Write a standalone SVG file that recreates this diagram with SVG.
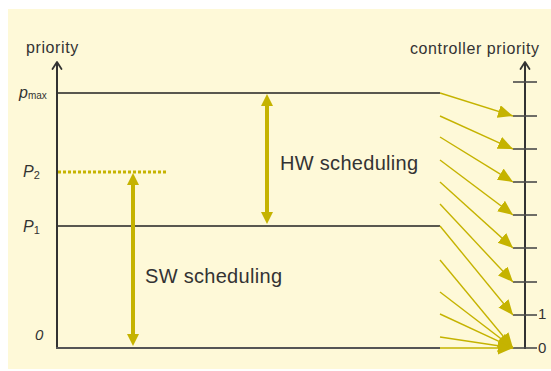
<svg xmlns="http://www.w3.org/2000/svg" width="551" height="371" viewBox="0 0 551 371">
<defs>
<style>
.txt{font-family:"Liberation Sans",Arial,sans-serif;fill:#333}
.ax{stroke:#333;stroke-width:2;fill:none}
.axh{stroke:#333;stroke-width:1.8;fill:none;stroke-linecap:round;stroke-linejoin:round}
.tick{stroke:#4a4a4a;stroke-width:1.6}
.lvl{stroke:#222;stroke-width:1.3}
.map{stroke:#c5b300;stroke-width:1.4;fill:none;marker-end:url(#ya)}
.big{stroke:#c5b300;stroke-width:4;fill:none;marker-start:url(#ba);marker-end:url(#ba)}
</style>
<marker id="ya" markerUnits="userSpaceOnUse" markerWidth="16" markerHeight="14" refX="15" refY="6.5" orient="auto" viewBox="0 0 16 14">
<path d="M0,0 L15,6.5 L0,13 z" fill="#c5b300"/>
</marker>
<marker id="ba" markerUnits="userSpaceOnUse" markerWidth="14" markerHeight="14" refX="2" refY="6" orient="auto-start-reverse" viewBox="0 0 14 14">
<path d="M0,0 L12,6 L0,12 z" fill="#c5b300"/>
</marker>
</defs>
<rect x="8" y="9" width="543" height="360" fill="#fef9d8"/>

<g id="left-axis">
<line class="ax" x1="57" y1="63" x2="57" y2="349"/>
<polyline class="axh" points="52.5,69 57,62 61.5,69"/>
<line x1="56" y1="348" x2="440" y2="348" stroke="#555" stroke-width="2"/>
<text class="txt" x="26" y="53" font-size="16" letter-spacing="0.6">priority</text>
</g>

<g id="right-axis">
<line class="ax" x1="525" y1="63" x2="525" y2="349"/>
<polyline class="axh" points="520.5,69 525,62 529.5,69"/>
<line class="tick" x1="513" y1="82" x2="537" y2="82"/>
<line class="tick" x1="513" y1="116" x2="537" y2="116"/>
<line class="tick" x1="513" y1="149" x2="537" y2="149"/>
<line class="tick" x1="513" y1="182" x2="537" y2="182"/>
<line class="tick" x1="513" y1="215" x2="537" y2="215"/>
<line class="tick" x1="513" y1="248" x2="537" y2="248"/>
<line class="tick" x1="513" y1="282" x2="537" y2="282"/>
<line class="tick" x1="513" y1="315" x2="537" y2="315"/>
<line class="tick" x1="513" y1="348" x2="537" y2="348"/>
<text class="txt" x="410" y="54" font-size="16" letter-spacing="0.6">controller priority</text>
<text class="txt" x="538" y="319" font-size="15">1</text>
<text class="txt" x="538" y="353" font-size="15">0</text>
</g>

<g id="levels">
<line class="lvl" x1="58" y1="93" x2="440" y2="93"/>
<line class="lvl" x1="58" y1="226" x2="440" y2="226"/>
<line x1="58" y1="172" x2="168" y2="172" stroke="#c5b300" stroke-width="3" stroke-dasharray="3 2"/>
<text class="txt" x="19" y="98" font-size="16" font-style="italic">p<tspan font-size="10" font-style="normal" dy="1">max</tspan></text>
<text class="txt" x="23" y="177" font-size="16" font-style="italic">P<tspan font-size="11" font-style="normal" dy="2">2</tspan></text>
<text class="txt" x="23" y="232" font-size="16" font-style="italic">P<tspan font-size="11" font-style="normal" dy="2">1</tspan></text>
<text class="txt" x="35" y="340" font-size="15" font-style="italic">0</text>
</g>

<g id="hw-scheduling">
<line class="big" x1="267" y1="104" x2="267" y2="214"/>
<text class="txt" x="280" y="170" font-size="20" letter-spacing="0.3">HW scheduling</text>
</g>

<g id="sw-scheduling">
<line class="big" x1="133" y1="183" x2="133" y2="336"/>
<text class="txt" x="145" y="283" font-size="20" letter-spacing="0.3">SW scheduling</text>
</g>

<g id="connectors">
<line class="map" x1="440" y1="93" x2="513" y2="116"/>
<line class="map" x1="440" y1="116" x2="513" y2="149"/>
<line class="map" x1="440" y1="137" x2="513" y2="182"/>
<line class="map" x1="440" y1="160" x2="513" y2="215"/>
<line class="map" x1="440" y1="182" x2="513" y2="248"/>
<line class="map" x1="440" y1="204" x2="513" y2="282"/>
<line class="map" x1="440" y1="226" x2="513" y2="315"/>
<line class="map" x1="440" y1="260" x2="513" y2="348"/>
<line class="map" x1="440" y1="292" x2="513" y2="348"/>
<line class="map" x1="440" y1="314" x2="513" y2="348"/>
<line class="map" x1="440" y1="337" x2="513" y2="348"/>
<line class="map" x1="440" y1="348" x2="513" y2="348" stroke-width="2"/>
</g>
</svg>
